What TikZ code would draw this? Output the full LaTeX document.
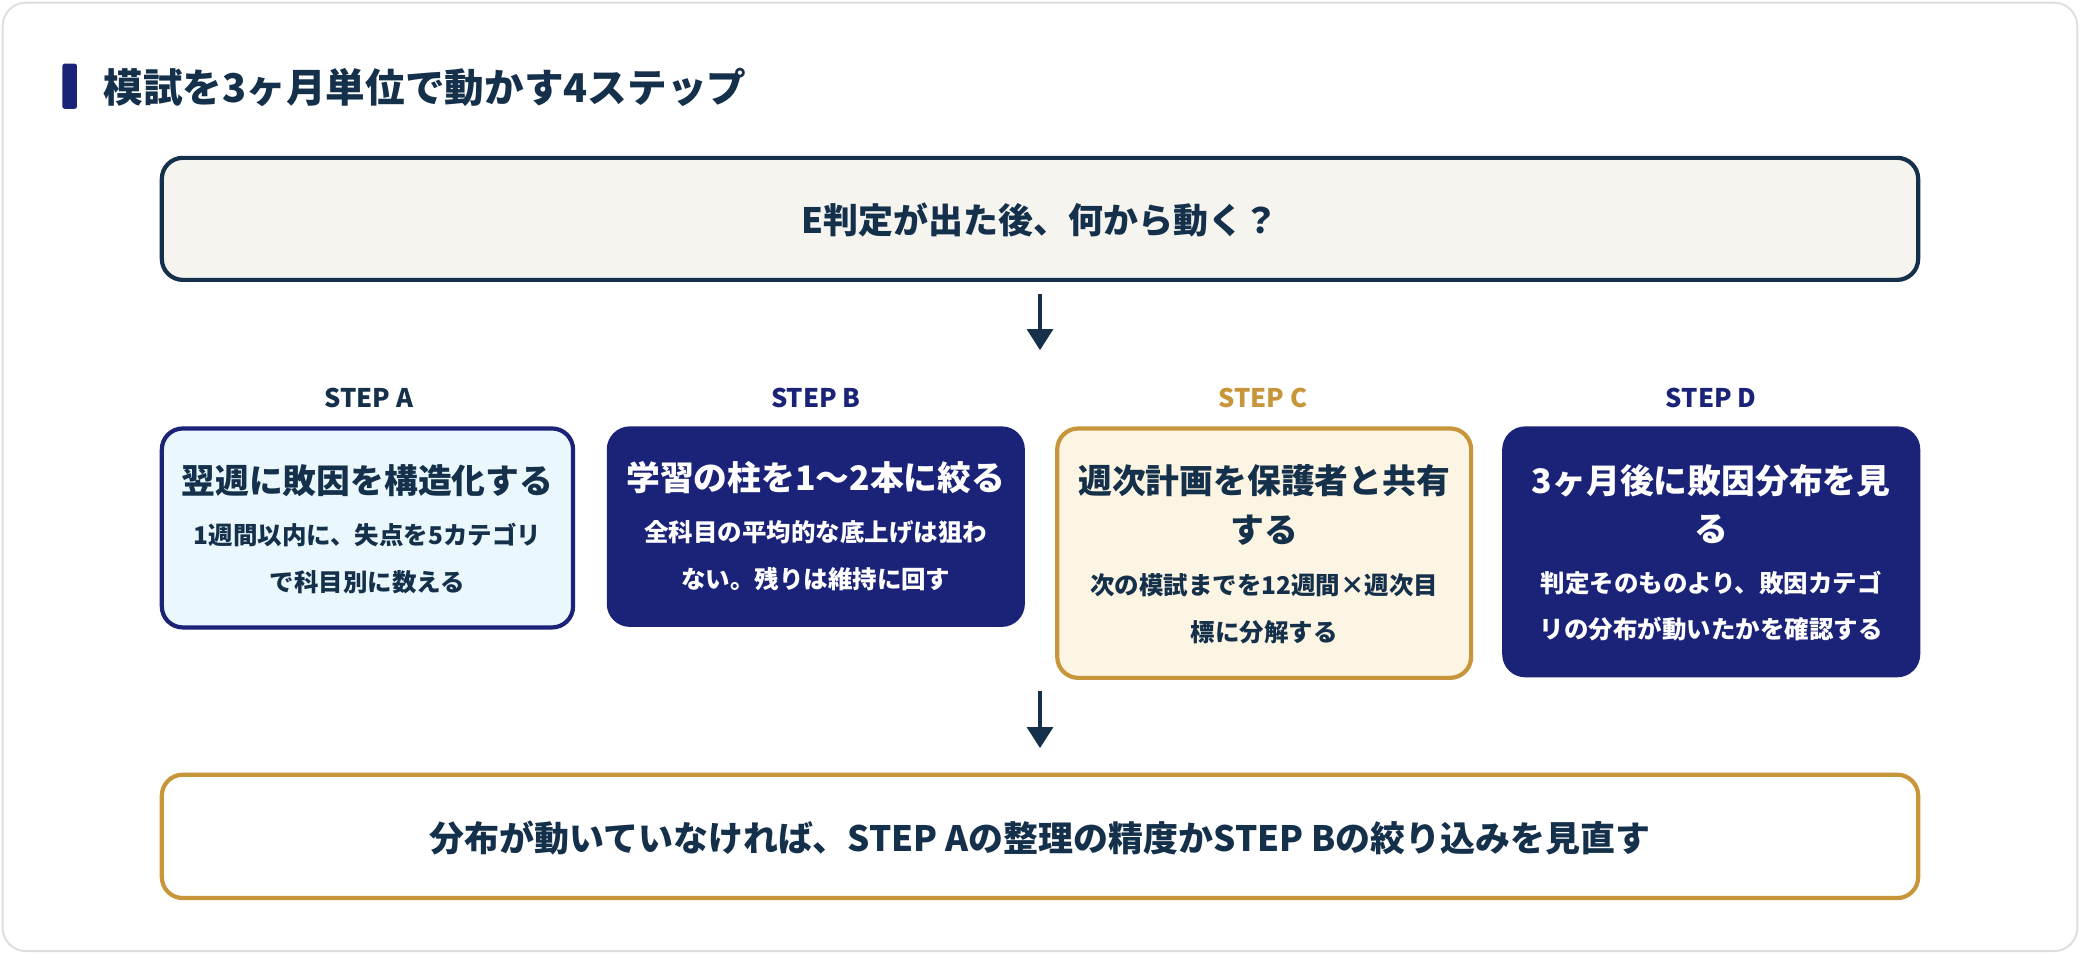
\documentclass[tikz,border=0pt]{standalone}
\usepackage{fontspec}
\setmainfont{Noto Sans CJK JP}
\usetikzlibrary{arrows.meta}
\definecolor{navy}{HTML}{1B2379}
\definecolor{ink}{HTML}{14304A}
\definecolor{gold}{HTML}{C8963A}
\definecolor{paleblue}{HTML}{EAF7FC}
\definecolor{cream}{HTML}{FDF5E4}
\definecolor{beige}{HTML}{F5F4EF}
\tikzset{
	box/.style={draw, line width=1.8pt, rounded corners=9pt, inner sep=0pt},
	steplabel/.style={font=\fontsize{11}{13}\selectfont\bfseries},
	steptitle/.style={font=\fontsize{14.5}{21}\selectfont\bfseries, align=center},
	stepbody/.style={font=\fontsize{10.5}{20}\selectfont\bfseries, align=center},
	flow/.style={-{Triangle[length=9pt,width=11pt]}, line width=1.6pt, ink}
}
\begin{document}
\begin{tikzpicture}
		[
		x=0.02cm, y=-0.02cm
		%Pixelraster der Vorlage
		]
		
		%Rahmen
		\useasboundingbox (0,0) rectangle (1568,719);
		\draw[rounded corners=10pt, draw=beige!80!gray, fill=white, line width=0.8pt] (2,2) rectangle (1566,717);
		
		%Überschrift
		\fill[navy, rounded corners=1pt] (47,48) rectangle (58,82);
		\node[anchor=west, text=ink, font=\fontsize{17}{20}\selectfont\bfseries] (title) at (72,66) {模試を3ヶ月単位で動かす4ステップ};
		
		%Frage oben
		\draw[box, draw=ink, fill=beige] (122,119) rectangle (1446,211);
		\node[text=ink, font=\fontsize{15}{18}\selectfont\bfseries] (q) at (784,166) {E判定が出た後、何から動く？};
		\coordinate (q1) at (784,222);
		\coordinate (q2) at (784,264);
		\draw[flow] (q1) -- (q2);
		
		%STEP A
		\node[steplabel, text=ink] (la) at (278,300) {STEP A};
		\draw[box, draw=navy, fill=paleblue] (122,323) rectangle (432,473);
		\node[steptitle, text=ink] (ta) at (277,362) {翌週に敗因を構造化する};
		\node[stepbody, text=ink] (ba) at (277,421) {1週間以内に、失点を5カテゴリ\\で科目別に数える};
		
		%STEP B
		\node[steplabel, text=navy] (lb) at (615,300) {STEP B};
		\draw[box, draw=navy, fill=navy] (459,323) rectangle (771,471);
		\node[steptitle, text=white] (tb) at (615,360) {学習の柱を1〜2本に絞る};
		\node[stepbody, text=white] (bb) at (615,419) {全科目の平均的な底上げは狙わ\\ない。残りは維持に回す};
		
		%STEP C
		\node[steplabel, text=gold] (lc) at (952,300) {STEP C};
		\draw[box, draw=gold, fill=cream] (797,323) rectangle (1109,511);
		\node[steptitle, text=ink] (tc) at (953,381) {週次計画を保護者と共有\\する};
		\node[stepbody, text=ink] (bc) at (953,459) {次の模試までを12週間×週次目\\標に分解する};
		
		%STEP D
		\node[steplabel, text=navy] (ld) at (1290,300) {STEP D};
		\draw[box, draw=navy, fill=navy] (1134,323) rectangle (1446,509);
		\node[steptitle, text=white] (td) at (1290,380) {3ヶ月後に敗因分布を見\\る};
		\node[stepbody, text=white] (bd) at (1290,457) {判定そのものより、敗因カテゴ\\リの分布が動いたかを確認する};
		
		%Pfeil unten
		\coordinate (s1) at (784,521);
		\coordinate (s2) at (784,564);
		\draw[flow] (s1) -- (s2);
		
		%Schluss
		\draw[box, draw=gold, fill=white] (122,584) rectangle (1446,677);
		\node[text=ink, font=\fontsize{15}{18}\selectfont\bfseries] (end) at (784,632) {分布が動いていなければ、STEP Aの整理の精度かSTEP Bの絞り込みを見直す};
	\end{tikzpicture}
\end{document}
